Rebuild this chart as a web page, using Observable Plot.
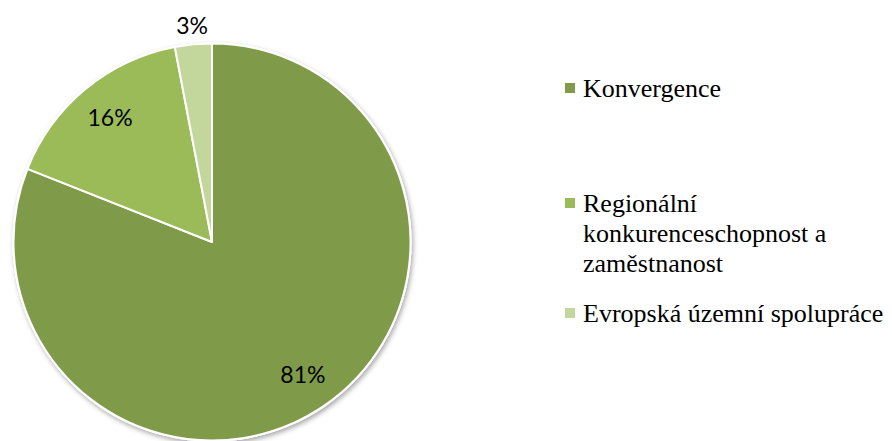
<!DOCTYPE html>
<html>
<head>
<meta charset="utf-8">
<script src="https://cdn.jsdelivr.net/npm/d3@7"></script>
<script src="https://cdn.jsdelivr.net/npm/@observablehq/plot@0.6"></script>
<style>
  html, body { margin: 0; padding: 0; background: #fff; }
  #chart { position: relative; width: 892px; height: 441px; overflow: hidden; }
  #chart svg { position: absolute; left: 0; top: 0; }
  .legend-item { position: absolute; left: 565px; width: 320px;
    font-family: "Liberation Serif", "Times New Roman", serif; font-size: 26px; line-height: 30px; color: #000; }
  .legend-item .sw { position: absolute; left: 0; top: 9px; width: 10px; height: 10px; }
  .legend-item .tx { margin-left: 18px; width: 305px; }
</style>
</head>
<body>
<div id="chart"></div>
<script>
// ---- data ----
const categories = ["Konvergence", "Regionální konkurenceschopnost a zaměstnanost", "Evropská územní spolupráce"];
const shares = [81, 16, 3];
const shareLabels = ["81%", "16%", "3%"];
const palette = ["#7f9b4a", "#9bbb59", "#c3d69b"];

// ---- layout ----
const W = 892, H = 441;
const cxPx = 212, cyPx = 242, rPx = 198.5;
const legendTops = [74, 189, 299];

const rows = categories.map((c, i) => ({category: c, share: shares[i], label: shareLabels[i]}));
const arcs = d3.pie().sort(null).value(d => d.share)(rows);
const labelRows = arcs.map(a => {
  const mid = (a.startAngle + a.endAngle) / 2;
  const rr = a.data.share < 5 ? 1.09 : 0.81;
  return {label: a.data.label, category: a.data.category, lx: rr * Math.sin(mid), ly: rr * Math.cos(mid)};
});

function pieMark(index, scales, values, dimensions, context) {
  const cx = scales.x(0), cy = scales.y(0), r = scales.x(1) - cx;
  const g = d3.create("svg:g");
  const defs = g.append("defs");
  defs.append("filter").attr("id", "pieShadow").attr("x", "-10%").attr("y", "-10%").attr("width", "120%").attr("height", "120%")
    .append("feDropShadow").attr("dx", 1.5).attr("dy", 2.5).attr("stdDeviation", 2.5)
    .attr("flood-color", "#000").attr("flood-opacity", 0.35);
  g.append("circle").attr("cx", cx).attr("cy", cy).attr("r", r + 1)
    .attr("fill", "#fff").attr("filter", "url(#pieShadow)");
  const arcGen = d3.arc().innerRadius(0).outerRadius(r);
  g.append("g").attr("transform", `translate(${cx},${cy})`)
    .selectAll("path").data(arcs).join("path")
    .attr("d", arcGen)
    .attr("fill", d => scales.color(d.data.category))
    .attr("stroke", "#fff").attr("stroke-width", 2).attr("stroke-linejoin", "round");
  return g.node();
}

const plot = Plot.plot({
  width: W, height: H,
  marginTop: 0, marginRight: 0, marginBottom: 0, marginLeft: 0,
  x: {domain: [-cxPx / rPx, (W - cxPx) / rPx], axis: null},
  y: {domain: [-(H - cyPx) / rPx, cyPx / rPx], axis: null},
  color: {domain: categories, range: palette},
  style: {background: "transparent"},
  marks: [
    Plot.dot(rows, {x: () => 0, y: () => 0, r: 0, fill: "category"}),
    pieMark,
    Plot.text(labelRows, {x: "lx", y: "ly", text: "label", fontSize: 23, fontFamily: "Lato, 'Open Sans', sans-serif", fill: "#000"})
  ]
});

const chart = document.getElementById("chart");
chart.appendChild(plot);
const color = plot.scale("color");
const cscale = d3.scaleOrdinal(color.domain, color.range);
categories.forEach((c, i) => {
  const item = document.createElement("div");
  item.className = "legend-item";
  item.style.top = legendTops[i] + "px";
  const sw = document.createElement("div");
  sw.className = "sw";
  sw.style.background = cscale(c);
  const tx = document.createElement("div");
  tx.className = "tx";
  tx.textContent = c;
  item.appendChild(sw);
  item.appendChild(tx);
  chart.appendChild(item);
});
</script>
</body>
</html>
